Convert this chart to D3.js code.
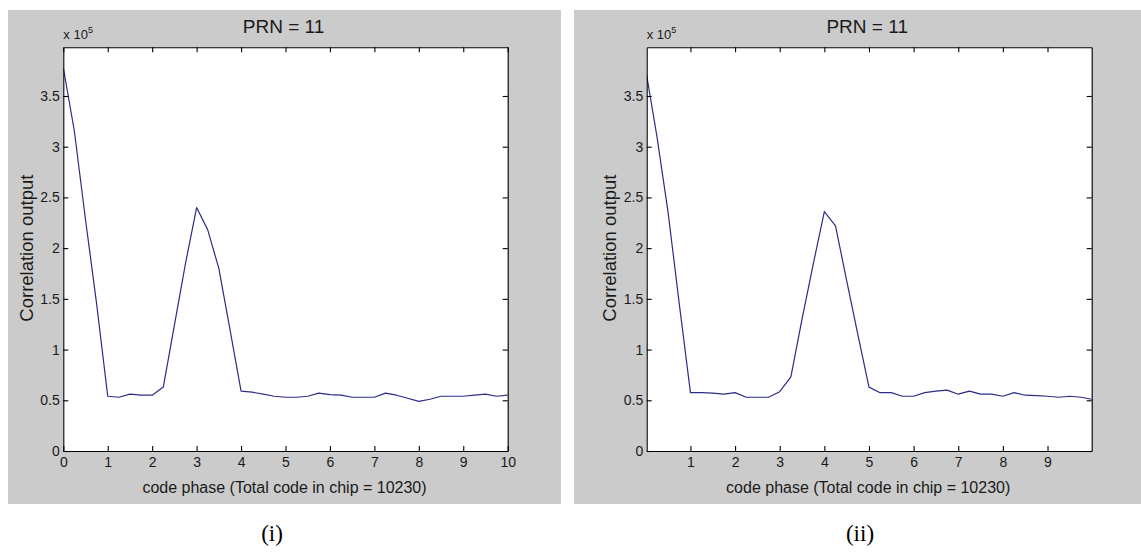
<!DOCTYPE html>
<html>
<head>
<meta charset="utf-8">
<script src="https://cdn.jsdelivr.net/npm/d3@7"></script>
<style>
  body { margin: 0; background: #fff; }
  svg { display: block; font-family: Arial, "Liberation Sans", sans-serif; }
</style>
</head>
<body>
<div id="chart"></div>
<script>
// code phase samples (chips / 1023), one every quarter
var phaseA = [0, 0.25, 0.5, 0.75, 1, 1.25, 1.5, 1.75, 2, 2.25, 2.5, 2.75, 3, 3.25, 3.5, 3.75, 4,
  4.25, 4.5, 4.75, 5, 5.25, 5.5, 5.75, 6, 6.25, 6.5, 6.75, 7, 7.25, 7.5, 7.75, 8,
  8.25, 8.5, 8.75, 9, 9.25, 9.5, 9.75, 10];
var corrA = [378000, 315000, 228000, 145000, 54000, 53000, 56000, 55000, 55000, 63000, 124000, 185000, 240000,
  218000, 180000, 120000, 59000, 58000, 56000, 54000, 53000, 53000, 54000, 57000, 55500,
  55000, 53000, 53000, 53000, 57000, 55000, 52000, 49000, 51000, 54000, 54000, 54000,
  55000, 56000, 54000, 55000];

var phaseB = [0.02, 0.25, 0.5, 0.75, 1, 1.25, 1.5, 1.75, 2, 2.25, 2.5, 2.75, 3, 3.25, 3.5, 3.75, 4,
  4.25, 4.5, 4.75, 5, 5.25, 5.5, 5.75, 6, 6.25, 6.5, 6.75, 7, 7.25, 7.5, 7.75, 8,
  8.25, 8.5, 8.75, 9, 9.25, 9.5, 9.75, 9.99];
var corrB = [370000, 310000, 235000, 145000, 57500, 57500, 57000, 56000, 57500, 53000, 53000, 53000, 58500,
  73000, 130000, 184000, 236000, 222000, 168000, 115000, 63000, 57500, 57500, 54000, 54000,
  57500, 59000, 60000, 56000, 59000, 56000, 56000, 54000, 57500, 55000, 54500, 54000,
  53000, 54000, 53000, 51000];

var yTicks = [0, 50000, 100000, 150000, 200000, 250000, 300000, 350000];
var xTicksA = [0, 1, 2, 3, 4, 5, 6, 7, 8, 9, 10];
var xTicksB = [1, 2, 3, 4, 5, 6, 7, 8, 9];

var titleText = "PRN = 11";
var xLabelText = "code phase (Total code in chip = 10230)";
var yLabelText = "Correlation output";

var svgWidth = 1141;
var svgHeight = 552;

var svg = d3.select("#chart")
  .append("svg")
  .attr("width", svgWidth)
  .attr("height", svgHeight);

var panels = [
  { id: "a", phase: phaseA, corr: corrA, xDomain: [0, 10], xTicks: xTicksA, caption: "(i)",
    bg: { x: 8, y: 10, w: 553, h: 494 }, left: 63.3, right: 507.7, captionX: 272 },
  { id: "b", phase: phaseB, corr: corrB, xDomain: [0.02, 9.99], xTicks: xTicksB, caption: "(ii)",
    bg: { x: 574, y: 10, w: 567, h: 494 }, left: 646.7, right: 1091.7, captionX: 860 }
];

var plotTop = 47.3, plotBottom = 451;
var textColor = "#1a1a1a";

panels.forEach(function(p) {
  // grey figure background
  svg.append("rect")
    .attr("x", p.bg.x).attr("y", p.bg.y)
    .attr("width", p.bg.w).attr("height", p.bg.h)
    .attr("fill", "#cbcbcb");

  var width = p.right - p.left;
  var height = plotBottom - plotTop;

  var g = svg.append("g").attr("transform", `translate(${p.left}, ${plotTop})`);

  g.append("rect").attr("width", width).attr("height", height).attr("fill", "#fff");

  var x = d3.scaleLinear().domain(p.xDomain).range([0, width]);
  var y = d3.scaleLinear().domain([0, 398000]).range([height, 0]);

  g.append("clipPath").attr("id", "clip-" + p.id)
    .append("rect").attr("width", width).attr("height", height);

  var line = d3.line()
    .x(function(d, i) { return x(p.phase[i]); })
    .y(function(d) { return y(d); });

  g.append("path")
    .datum(p.corr)
    .attr("clip-path", `url(#clip-${p.id})`)
    .attr("fill", "none")
    .attr("stroke", "#2c2c86")
    .attr("stroke-width", 1.2)
    .attr("stroke-linejoin", "round")
    .attr("d", line);

  // axes, MATLAB style: ticks inside, box on
  var bottomAxis = d3.axisBottom(x).tickValues(p.xTicks).tickSizeInner(-5).tickSizeOuter(0).tickPadding(6);
  var topAxis = d3.axisTop(x).tickValues(p.xTicks).tickSizeInner(-5).tickSizeOuter(0).tickFormat("");
  var leftAxis = d3.axisLeft(y).tickValues(yTicks).tickSizeInner(-5).tickSizeOuter(0).tickPadding(3.5)
    .tickFormat(function(d) { return String(d / 100000); });
  var rightAxis = d3.axisRight(y).tickValues(yTicks).tickSizeInner(-5).tickSizeOuter(0).tickFormat("");

  var ax = [
    g.append("g").attr("transform", `translate(0, ${height})`).call(bottomAxis),
    g.append("g").call(topAxis),
    g.append("g").call(leftAxis),
    g.append("g").attr("transform", `translate(${width}, 0)`).call(rightAxis)
  ];
  ax.forEach(function(a) {
    a.attr("font-family", null).attr("font-size", null);
    a.selectAll("path, line").attr("stroke", "#000").attr("stroke-width", 1.1);
    a.selectAll("text").style("font-size", "14px").attr("fill", textColor);
  });

  // exponent note
  var ex = g.append("text").attr("x", 0).attr("y", -8).style("font-size", "13px").attr("fill", textColor);
  ex.append("tspan").text("x 10");
  ex.append("tspan").attr("dy", -6).style("font-size", "9px").text("5");

  // title
  g.append("text")
    .attr("x", width / 2 - 2)
    .attr("y", 33 - plotTop)
    .attr("text-anchor", "middle")
    .style("font-size", "19px")
    .attr("fill", textColor)
    .text(titleText);

  // axis labels
  g.append("text")
    .attr("x", width / 2 - 1)
    .attr("y", 493 - plotTop)
    .attr("text-anchor", "middle")
    .style("font-size", "16px")
    .attr("fill", textColor)
    .text(xLabelText);

  g.append("text")
    .attr("transform", "rotate(-90)")
    .attr("x", -(height / 2) + 1)
    .attr("y", -30.5)
    .attr("text-anchor", "middle")
    .style("font-size", "18.5px")
    .attr("fill", textColor)
    .text(yLabelText);

  // panel caption
  svg.append("text")
    .attr("x", p.captionX)
    .attr("y", 541)
    .attr("text-anchor", "middle")
    .style("font-family", "'Liberation Serif', 'Times New Roman', serif")
    .style("font-size", "23px")
    .attr("fill", "#000")
    .text(p.caption);
});
</script>
</body>
</html>
